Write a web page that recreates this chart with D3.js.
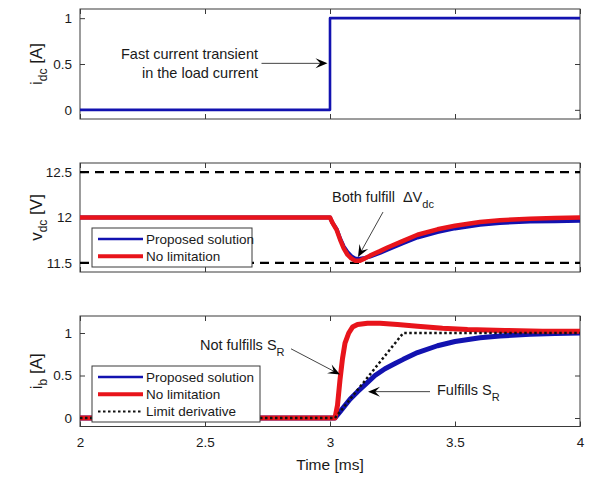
<!DOCTYPE html>
<html>
<head>
<meta charset="utf-8">
<script src="https://cdn.jsdelivr.net/npm/d3@7"></script>
<style>
  body { margin: 0; background: #fff; }
  text { font-family: "Liberation Sans", Arial, sans-serif; fill: #1a1a1a; }
</style>
</head>
<body>
<svg id="chart" width="603" height="488"></svg>
<script>
// ---- data ----
var xTicks = [2, 2.5, 3, 3.5, 4];

// top panel: load current step
var tIdc = [2, 3, 3, 4];
var idc = [0, 0, 1, 1];
var idcTicks = [0, 0.5, 1];

// middle panel: dc-link voltage
var tVdc = [2, 3.0, 3.01, 3.027, 3.04, 3.055, 3.07, 3.085, 3.1, 3.12, 3.14, 3.16, 3.2, 3.23, 3.29, 3.35, 3.43, 3.5, 3.6, 3.68, 3.8, 3.9, 4.0];
var vdcProposed = [12, 12, 11.94, 11.87, 11.77, 11.68, 11.62, 11.575, 11.55, 11.545, 11.555, 11.57, 11.61, 11.645, 11.715, 11.78, 11.84, 11.88, 11.92, 11.94, 11.955, 11.96, 11.965];
var vdcNoLimit = [12, 12, 11.94, 11.86, 11.76, 11.66, 11.59, 11.55, 11.525, 11.525, 11.55, 11.58, 11.63, 11.67, 11.74, 11.81, 11.87, 11.91, 11.95, 11.97, 11.985, 11.995, 12.0];
var vdcBounds = [11.5, 12.5];
var vdcTicks = [11.5, 12, 12.5];

// bottom panel: battery current
var tIbProposed = [2, 3.02, 3.05, 3.08, 3.11, 3.147, 3.18, 3.22, 3.26, 3.293, 3.35, 3.43, 3.5, 3.6, 3.68, 3.8, 3.9, 4.0];
var ibProposed = [0, 0, 0.11, 0.22, 0.31, 0.41, 0.5, 0.58, 0.64, 0.69, 0.77, 0.85, 0.9, 0.945, 0.965, 0.985, 0.995, 1.0];
var tIbNoLimit = [2, 3.02, 3.03, 3.04, 3.05, 3.06, 3.075, 3.09, 3.11, 3.15, 3.2, 3.27, 3.35, 3.45, 3.55, 3.7, 3.85, 4.0];
var ibNoLimit = [0, 0, 0.15, 0.45, 0.7, 0.88, 1.0, 1.07, 1.1, 1.115, 1.115, 1.1, 1.08, 1.055, 1.04, 1.03, 1.02, 1.02];
var tLimit = [2, 3.02, 3.293, 4];
var ibLimit = [0, 0, 1, 1];
var ibTicks = [0, 0.5, 1];

var blue = "#1212b0";
var red = "#e8141b";
var axisColor = "#3a3a3a";

var svg = d3.select("#chart");
var x = d3.scaleLinear().domain([2, 4]).range([80, 580]);

// one subplot: box, inward ticks on all four sides
function panel(top, bottom, yDomain, yTicks, showX) {
    var y = d3.scaleLinear().domain(yDomain).range([bottom, top]);
    var g = svg.append("g");

    g.append("rect")
        .attr("x", x(2)).attr("y", top)
        .attr("width", x(4) - x(2)).attr("height", bottom - top)
        .attr("fill", "none").attr("stroke", axisColor).attr("stroke-width", 1);

    function style(a) {
        a.select(".domain").remove();
        a.selectAll("line").attr("stroke", axisColor);
        a.attr("font-size", 13.5).attr("font-family", "Liberation Sans, Arial, sans-serif");
        a.selectAll("text").attr("fill", "#1a1a1a");
    }

    g.append("g").attr("transform", "translate(" + x(2) + ",0)")
        .call(d3.axisLeft(y).tickValues(yTicks).tickSize(-5).tickPadding(8).tickFormat(function (d) { return d; }))
        .call(style);
    g.append("g").attr("transform", "translate(" + x(4) + ",0)")
        .call(d3.axisRight(y).tickValues(yTicks).tickSize(-5).tickFormat(""))
        .call(style);
    g.append("g").attr("transform", "translate(0," + top + ")")
        .call(d3.axisTop(x).tickValues(xTicks).tickSize(-5).tickFormat(""))
        .call(style);
    g.append("g").attr("transform", "translate(0," + bottom + ")")
        .call(d3.axisBottom(x).tickValues(xTicks).tickSize(-5).tickPadding(11)
            .tickFormat(showX ? function (d) { return d; } : ""))
        .call(style);

    return { g: g, y: y, top: top, bottom: bottom };
}

function drawLine(p, ts, vs, color, width, dash) {
    var line = d3.line().x(function (d) { return x(d[0]); }).y(function (d) { return p.y(d[1]); });
    p.g.append("path")
        .datum(d3.zip(ts, vs))
        .attr("d", line)
        .attr("fill", "none")
        .attr("stroke", color)
        .attr("stroke-width", width)
        .attr("stroke-linejoin", "round")
        .attr("stroke-dasharray", dash || null);
}

// y label with a subscript, rotated
function yLabel(p, main, sub, unit) {
    var t = svg.append("text")
        .attr("transform", "translate(42," + ((p.top + p.bottom) / 2) + ") rotate(-90)")
        .attr("text-anchor", "middle")
        .attr("font-size", 17);
    t.append("tspan").text(main);
    t.append("tspan").attr("font-size", 12).attr("dy", 5).text(sub);
    t.append("tspan").attr("dy", -5).text(" " + unit);
}

function legend(p, x0, y0, w, h, items) {
    var lg = p.g.append("g");
    lg.append("rect").attr("x", x0).attr("y", y0).attr("width", w).attr("height", h)
        .attr("fill", "#fff").attr("stroke", axisColor).attr("stroke-width", 1);
    items.forEach(function (it, i) {
        var yy = y0 + 11 + i * 17.3;
        lg.append("line").attr("x1", x0 + 6).attr("x2", x0 + 51).attr("y1", yy).attr("y2", yy)
            .attr("stroke", it.color).attr("stroke-width", it.width)
            .attr("stroke-dasharray", it.dash || null);
        lg.append("text").attr("x", x0 + 54).attr("y", yy + 4.8).attr("font-size", 13.5).text(it.label);
    });
}

// annotation arrow, end points given in data units
function arrow(p, t1, v1, t2, v2) {
    var x1 = x(t1), y1 = p.y(v1), x2 = x(t2), y2 = p.y(v2);
    var ang = Math.atan2(y2 - y1, x2 - x1);
    var len = 12, hw = 5;
    p.g.append("line").attr("x1", x1).attr("y1", y1)
        .attr("x2", x2 - Math.cos(ang) * 6).attr("y2", y2 - Math.sin(ang) * 6)
        .attr("stroke", "#444").attr("stroke-width", 1);
    var c = Math.cos(ang), s = Math.sin(ang);
    function pt(a, b) { return [x2 + a * c - b * s, y2 + a * s + b * c]; }
    var head = [pt(0, 0), pt(-len, -hw), pt(-len * 0.6, 0), pt(-len, hw)];
    p.g.append("path").attr("d", "M" + head.join("L") + "Z").attr("fill", "#000");
}

function subText(p, t, v, main, sub, anchor) {
    var tx = p.g.append("text").attr("x", x(t)).attr("y", p.y(v))
        .attr("font-size", 14.5).attr("text-anchor", anchor || "start");
    tx.append("tspan").text(main);
    if (sub) tx.append("tspan").attr("font-size", 11).attr("dy", 6).text(sub);
    return tx;
}

// ---- top: i_dc ----
var p1 = panel(9, 119, [-0.1, 1.1], idcTicks, false);
drawLine(p1, tIdc, idc, blue, 2.6);
yLabel(p1, "i", "dc", "[A]");
subText(p1, 2.712, 0.56, "Fast current transient", null, "end");
subText(p1, 2.712, 0.35, "in the load current", null, "end");
arrow(p1, 2.726, 0.507, 2.99, 0.507);

// ---- middle: v_dc ----
var p2 = panel(163, 272, [11.4, 12.6], vdcTicks, false);
vdcBounds.forEach(function (b) {
    drawLine(p2, [2, 4], [b, b], "#000", 2.4, "9,6");
});
drawLine(p2, tVdc, vdcProposed, blue, 4);
drawLine(p2, tVdc, vdcNoLimit, red, 4.5);
yLabel(p2, "v", "dc", "[V]");
subText(p2, 3.008, 12.176, "Both fulfill\u00a0\u00a0\u0394V", "dc");
arrow(p2, 3.212, 12.06, 3.112, 11.565);
legend(p2, 92, 228, 160, 39, [
    { label: "Proposed solution", color: blue, width: 2.6 },
    { label: "No limitation", color: red, width: 4 }
]);

// ---- bottom: i_b ----
var p3 = panel(316, 426.5, [-0.1, 1.2], ibTicks, true);
drawLine(p3, tIbProposed, ibProposed, blue, 5);
drawLine(p3, tIbNoLimit, ibNoLimit, red, 5);
drawLine(p3, tLimit, ibLimit, "#111", 2.5, "2.5,2.5");
yLabel(p3, "i", "b", "[A]");
subText(p3, 2.48, 0.80, "Not fulfills S", "R");
arrow(p3, 2.844, 0.814, 3.04, 0.512);
subText(p3, 3.428, 0.27, "Fulfills S", "R");
arrow(p3, 3.40, 0.31, 3.152, 0.31);
legend(p3, 92, 366, 168, 56, [
    { label: "Proposed solution", color: blue, width: 2.6 },
    { label: "No limitation", color: red, width: 4 },
    { label: "Limit derivative", color: "#111", width: 2, dash: "2.5,2.5" }
]);

svg.append("text").attr("x", x(3)).attr("y", 470)
    .attr("text-anchor", "middle").attr("font-size", 15.5).text("Time [ms]");
</script>
</body>
</html>
